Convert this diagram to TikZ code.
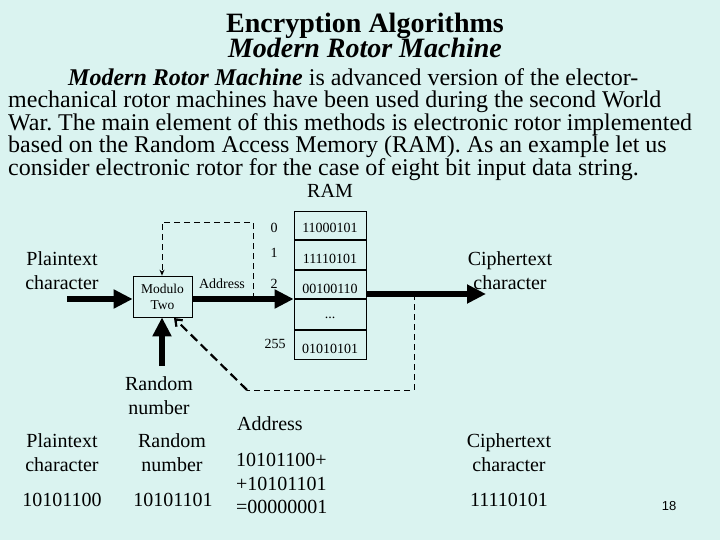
\documentclass[tikz,border=0pt]{standalone}
\usepackage{fontspec}
\setmainfont{Liberation Serif}
\newfontfamily\numsans{Liberation Sans}
\usetikzlibrary{arrows.meta}
\definecolor{bg}{RGB}{218,243,240}
\frenchspacing
\begin{document}
\begin{tikzpicture}[x=1pt,y=-1pt,
  txt/.style={inner sep=0pt, anchor=base, font=\fontsize{20}{20}\selectfont},
  small/.style={inner sep=0pt, anchor=base, font=\fontsize{14}{14}\selectfont},
  para/.style={inner sep=0pt, anchor=base west, font=\fontsize{24}{24}\selectfont},
  ttl/.style={inner sep=0pt, anchor=base, font=\fontsize{28}{28}\selectfont\bfseries},
  bigarrow/.style={line width=6.5pt, -{Triangle[length=19pt,width=18pt]}},
  feedback/.style={line width=0.9pt, dash pattern=on 6pt off 4pt},
  feedtip/.style={-{Stealth[length=6pt,width=5pt]}},
  sep/.style={line width=1.8pt},
  ]
\useasboundingbox (0,0) rectangle (720,540);
\fill[bg] (0,0) rectangle (720,540);

% title
\node[ttl] (t1) at (365,33) {Encryption Algorithms};
\node[ttl, font=\fontsize{28}{28}\selectfont\bfseries\itshape] (t2) at (365,58) {Modern Rotor Machine};

% paragraph
\node[para] (p1) at (68,86) {\textbf{\textit{Modern Rotor Machine}} is advanced version of the elector-};
\node[para] (p2) at (8,108) {mechanical rotor machines have been used during the second World};
\node[para] (p3) at (8,131) {War. The main element of this methods is electronic rotor implemented};
\node[para] (p4) at (8,153) {based on the Random Access Memory (RAM). As an example let us};
\node[para] (p5) at (8,176) {consider electronic rotor for the case of eight bit input data string.};

% RAM
\node[txt] (ramlbl) at (330,197) {RAM};
\node[draw, line width=0.7pt, minimum width=72pt, minimum height=148pt, inner sep=0pt] (ram) at (330,285) {};
\draw[sep] (294,240) -- (366,240);
\draw[sep] (294,270) -- (366,270);
\draw[sep] (294,299) -- (366,299);
\draw[sep] (294,330) -- (366,330);
\node[small] (c0) at (330,233) {11000101};
\node[small] (c1) at (330,263) {11110101};
\node[small] (c2) at (330,293) {00100110};
\node[small] (c3) at (330,318) {...};
\node[small] (c4) at (330,353) {01010101};
\node[small] (a0) at (274,233) {0};
\node[small] (a1) at (274,258) {1};
\node[small] (a2) at (274,288) {2};
\node[small] (a3) at (275,348) {255};

% modulo box
\node[draw, line width=0.7pt, minimum width=59pt, minimum height=41pt, inner sep=0pt, align=center,
      font=\fontsize{13.5}{16}\selectfont] (mod) at (162.5,296.5) {Modulo\\Two};
\node[small] (addr) at (222,288) {Address};

% labels
\node[txt] (pl1) at (62,265) {Plaintext};
\node[txt] (pl2) at (62,289) {character};
\node[txt] (ci1) at (510,265) {Ciphertext};
\node[txt] (ci2) at (510,289) {character};
\node[txt] (rn1) at (159,390) {Random};
\node[txt] (rn2) at (159,414) {number};

% thick arrows
\coordinate (inbeg) at (67,299);
\coordinate (outend) at (486,294);
\coordinate (rndbeg) at (162,366);
\draw[bigarrow] (inbeg) -- (inbeg -| mod.west);
\draw[bigarrow] (inbeg -| mod.east) -- (inbeg -| ram.west);
\draw[bigarrow] (outend -| ram.east) -- (outend);
\draw[bigarrow] (rndbeg) -- (rndbeg |- mod.south);

% feedback (top)
\coordinate (f1) at (253,299);
\coordinate (f2) at (253,222);
\coordinate (f3) at (162,222);
\draw[feedback, feedtip] (f1) -- (f2) -- (f3) -- (f3 |- mod.north);

% feedback (bottom)
\coordinate (g1) at (414,294);
\coordinate (g2) at (414,390);
\coordinate (g3) at (247,390);
\coordinate (g4) at (174,318);
\draw[feedback] (g1) -- (g2) -- (g3);
\draw[line width=2.2pt, dash pattern=on 9pt off 5pt, -{Straight Barb[length=6pt,width=9pt]}] (g3) -- (g4);

% bottom table
\node[txt] (b1) at (62,447) {Plaintext};
\node[txt] (b2) at (62,471) {character};
\node[txt] (b3) at (62,506) {10101100};
\node[txt] (b4) at (172,447) {Random};
\node[txt] (b5) at (172,471) {number};
\node[txt] (b6) at (173,506) {10101101};
\node[txt, anchor=base west] (b7) at (237,430) {Address};
\node[txt, anchor=base west] (b8) at (236,466) {10101100+};
\node[txt, anchor=base west] (b9) at (236,490) {+10101101};
\node[txt, anchor=base west] (b10) at (236,513) {=00000001};
\node[txt] (b11) at (509,447) {Ciphertext};
\node[txt] (b12) at (509,471) {character};
\node[txt] (b13) at (509,506) {11110101};
\node[inner sep=0pt, anchor=base, font=\numsans\fontsize{13}{13}\selectfont] (pg) at (669,510) {18};
\end{tikzpicture}
\end{document}
